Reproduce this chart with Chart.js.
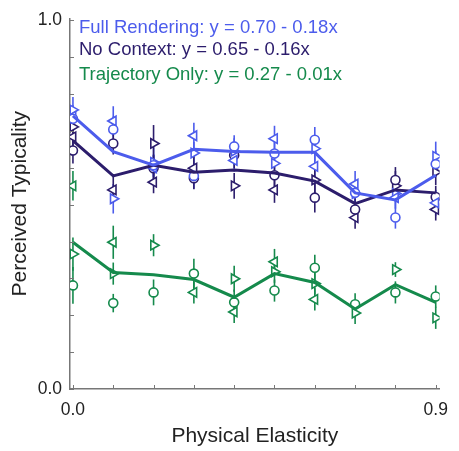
<!DOCTYPE html>
<html>
<head>
<meta charset="utf-8">
<script src="https://cdn.jsdelivr.net/npm/chart.js@4.4.1/dist/chart.umd.min.js"></script>
<style>
  body { margin: 0; background: #fff; }
  #wrap { width: 459px; height: 451px; }
</style>
</head>
<body>
<div id="wrap"><canvas id="typicality"></canvas></div>
<script>
// Perceived typicality vs physical elasticity
const elasticity = [0.0, 0.1, 0.2, 0.3, 0.4, 0.5, 0.6, 0.7, 0.8, 0.9];
const xTicks = [0.0, 0.1, 0.2, 0.3, 0.4, 0.5, 0.6, 0.7, 0.8, 0.9];
const yTicks = [0.0, 0.1, 0.2, 0.3, 0.4, 0.5, 0.6, 0.7, 0.8, 0.9, 1.0];

// mean lines
const fullMean = [0.741, 0.644, 0.607, 0.650, 0.644, 0.642, 0.642, 0.532, 0.513, 0.580];
const noCtxMean = [0.674, 0.578, 0.607, 0.588, 0.594, 0.586, 0.564, 0.503, 0.540, 0.532];
const trajMean = [0.398, 0.316, 0.310, 0.297, 0.249, 0.313, 0.289, 0.217, 0.283, 0.235];

// individual markers (circle / left triangle / right triangle) and their error half-widths
const fullCircle = [0.733, 0.704, 0.607, 0.578, 0.658, 0.639, 0.676, 0.532, 0.465, 0.610];
const fullLeft = [0.740, 0.727, 0.600, 0.687, 0.620, 0.679, 0.604, 0.556, 0.519, 0.505];
const fullRight = [0.757, 0.516, 0.615, 0.640, 0.645, 0.612, 0.652, 0.530, 0.530, 0.631];
const fullCircleErr = [0.030, 0.035, 0.030, 0.035, 0.030, 0.035, 0.035, 0.030, 0.030, 0.035];
const fullLeftErr = [0.030, 0.040, 0.035, 0.035, 0.030, 0.035, 0.035, 0.035, 0.030, 0.035];
const fullRightErr = [0.035, 0.040, 0.040, 0.030, 0.035, 0.035, 0.035, 0.030, 0.035, 0.040];

const noCtxCircle = [0.647, 0.666, 0.599, 0.572, 0.634, 0.580, 0.519, 0.487, 0.567, 0.521];
const noCtxLeft = [0.684, 0.540, 0.561, 0.599, null, 0.540, null, 0.465, null, 0.487];
const noCtxRight = [0.711, null, 0.666, null, 0.551, null, 0.567, null, 0.551, 0.588];
const noCtxCircleErr = [0.035, 0.030, 0.035, 0.030, 0.035, 0.030, 0.040, 0.030, 0.035, 0.030];
const noCtxLeftErr = [0.040, 0.035, 0.030, 0.035, 0.035, 0.035, 0.035, 0.030, 0.035, 0.030];
const noCtxRightErr = [0.035, 0.035, 0.050, 0.035, 0.035, 0.035, 0.045, 0.035, 0.040, 0.035];

const trajCircle = [0.281, 0.233, 0.262, 0.313, 0.235, 0.267, 0.329, 0.230, 0.262, 0.251];
const trajLeft = [0.551, 0.398, null, 0.262, 0.209, 0.345, 0.243, null, null, null];
const trajRight = [0.366, 0.313, 0.390, null, 0.299, 0.318, 0.286, 0.206, 0.324, 0.193];
const trajCircleErr = [0.050, 0.025, 0.035, 0.040, 0.035, 0.030, 0.035, 0.030, 0.030, 0.030];
const trajLeftErr = [0.040, 0.045, 0.035, 0.030, 0.030, 0.035, 0.030, 0.030, 0.030, 0.030];
const trajRightErr = [0.045, 0.030, 0.030, 0.030, 0.035, 0.030, 0.030, 0.030, 0.020, 0.030];

const legendLines = [
    'Full Rendering: y = 0.70 - 0.18x',
    'No Context: y = 0.65 - 0.16x',
    'Trajectory Only: y = 0.27 - 0.01x'
];

const BLUE = '#4c5cec';
const PURPLE = '#2c1d6c';
const GREEN = '#158a4c';
const FONT = "'Liberation Sans', Arial, sans-serif";

Chart.defaults.font.family = FONT;
Chart.defaults.color = '#222222';

function points(values, errs) {
    const out = [];
    values.forEach((v, i) => {
        if (v !== null) out.push({ x: elasticity[i], y: v, err: errs[i] });
    });
    return out;
}

function meanLine(values, color) {
    return {
        data: values.map((v, i) => ({ x: elasticity[i], y: v })),
        showLine: true,
        borderColor: color,
        borderWidth: 3,
        pointRadius: 0,
        tension: 0,
        order: 0
    };
}

function markers(values, errs, color, style, rotation) {
    return {
        data: points(values, errs),
        showLine: false,
        borderColor: color,
        backgroundColor: '#ffffff',
        borderWidth: 1.6,
        pointStyle: style,
        rotation: rotation,
        pointRadius: style === 'circle' ? 4.5 : 5.5,
        errorBars: true,
        order: 1
    };
}

// vertical error bars, drawn under the markers
const errorBarPlugin = {
    id: 'errorBars',
    beforeDatasetsDraw(chart) {
        const ctx = chart.ctx;
        const xs = chart.scales.x;
        const ys = chart.scales.y;
        ctx.save();
        chart.data.datasets.forEach(ds => {
            if (!ds.errorBars) return;
            ctx.strokeStyle = ds.borderColor;
            ctx.lineWidth = 1.6;
            ds.data.forEach(p => {
                const px = xs.getPixelForValue(p.x);
                ctx.beginPath();
                ctx.moveTo(px, ys.getPixelForValue(p.y - p.err));
                ctx.lineTo(px, ys.getPixelForValue(p.y + p.err));
                ctx.stroke();
            });
        });
        ctx.restore();
    }
};

// small tick marks pointing into the plot
const inwardTicks = {
    id: 'inwardTicks',
    afterDraw(chart) {
        const ctx = chart.ctx;
        const xs = chart.scales.x;
        const ys = chart.scales.y;
        const area = chart.chartArea;
        ctx.save();
        ctx.strokeStyle = '#777777';
        ctx.lineWidth = 1;
        xTicks.forEach(v => {
            const px = Math.round(xs.getPixelForValue(v)) + 0.5;
            ctx.beginPath();
            ctx.moveTo(px, area.bottom);
            ctx.lineTo(px, area.bottom - 4);
            ctx.stroke();
        });
        yTicks.forEach(v => {
            const py = Math.round(ys.getPixelForValue(v)) + 0.5;
            ctx.beginPath();
            ctx.moveTo(area.left, py);
            ctx.lineTo(area.left + 4, py);
            ctx.stroke();
        });
        ctx.restore();
    }
};

// coloured regression text in the top-left corner
const equationLegend = {
    id: 'equationLegend',
    afterDraw(chart) {
        const ctx = chart.ctx;
        const colors = [BLUE, PURPLE, GREEN];
        const baselines = [33, 55, 80];
        ctx.save();
        ctx.font = '18.5px ' + FONT;
        ctx.textAlign = 'left';
        ctx.textBaseline = 'alphabetic';
        legendLines.forEach((t, i) => {
            ctx.fillStyle = colors[i];
            ctx.fillText(t, 79, baselines[i]);
        });
        ctx.restore();
    }
};

const data = {
    datasets: [
        meanLine(fullMean, BLUE),
        meanLine(noCtxMean, PURPLE),
        meanLine(trajMean, GREEN),
        markers(fullCircle, fullCircleErr, BLUE, 'circle', 0),
        markers(fullLeft, fullLeftErr, BLUE, 'triangle', -90),
        markers(fullRight, fullRightErr, BLUE, 'triangle', 90),
        markers(noCtxCircle, noCtxCircleErr, PURPLE, 'circle', 0),
        markers(noCtxLeft, noCtxLeftErr, PURPLE, 'triangle', -90),
        markers(noCtxRight, noCtxRightErr, PURPLE, 'triangle', 90),
        markers(trajCircle, trajCircleErr, GREEN, 'circle', 0),
        markers(trajLeft, trajLeftErr, GREEN, 'triangle', -90),
        markers(trajRight, trajRightErr, GREEN, 'triangle', 90)
    ]
};

const config = {
    type: 'scatter',
    data: data,
    options: {
        responsive: true,
        maintainAspectRatio: false,
        animation: false,
        layout: {
            padding: { top: 13, right: 10, left: 0, bottom: 0 }
        },
        plugins: {
            legend: { display: false },
            tooltip: { enabled: false }
        },
        scales: {
            x: {
                type: 'linear',
                min: -0.0073,
                max: 0.9097,
                afterBuildTicks: s => { s.ticks = xTicks.map(v => ({ value: v })); },
                afterFit: s => { s.height = 62; },
                grid: { display: false, drawTicks: false },
                border: { display: true, color: '#777777', width: 1.5 },
                ticks: {
                    autoSkip: false,
                    maxRotation: 0,
                    padding: 11,
                    font: { size: 17.5 },
                    callback: v => (v === 0 ? '0.0' : (Math.abs(v - 0.9) < 1e-6 ? '0.9' : ''))
                },
                title: {
                    display: true,
                    text: 'Physical Elasticity',
                    font: { size: 21 },
                    padding: { top: 0, bottom: 2 }
                }
            },
            y: {
                type: 'linear',
                min: 0,
                max: 1.005,
                afterBuildTicks: s => { s.ticks = yTicks.map(v => ({ value: v })); },
                afterFit: s => { s.width = 70; },
                grid: { display: false, drawTicks: false },
                border: { display: true, color: '#777777', width: 1.5 },
                ticks: {
                    autoSkip: false,
                    padding: 8,
                    font: { size: 17.5 },
                    callback: v => (v === 0 ? '0.0' : (Math.abs(v - 1) < 1e-6 ? '1.0' : ''))
                },
                title: {
                    display: true,
                    text: 'Perceived Typicality',
                    font: { size: 21 },
                    padding: { top: 8, bottom: 0 }
                }
            }
        }
    },
    plugins: [errorBarPlugin, inwardTicks, equationLegend]
};

const typicalityChart = new Chart(
    document.getElementById('typicality'),
    config
);
</script>
</body>
</html>
